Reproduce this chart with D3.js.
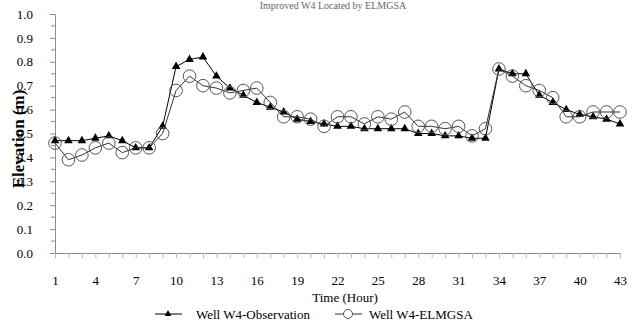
<!DOCTYPE html>
<html><head><meta charset="utf-8">
<script src="https://cdn.jsdelivr.net/npm/d3@7"></script>
<style>body{margin:0;background:#fff}svg{display:block}text{font-family:"Liberation Serif","Times New Roman",serif}</style>
</head><body>
<script>
const hours = d3.range(1, 44);
const xTickLabels = [1,4,7,10,13,16,19,22,25,28,31,34,37,40,43];
const yTicks = [0,0.1,0.2,0.3,0.4,0.5,0.6,0.7,0.8,0.9,1.0];
const observation = [0.47,0.47,0.47,0.48,0.49,0.47,0.44,0.44,0.53,0.78,
  0.81,0.82,0.74,0.69,0.66,0.63,0.61,0.59,0.56,0.55,
  0.54,0.53,0.53,0.52,0.52,0.52,0.52,0.50,0.50,0.49,
  0.49,0.48,0.48,0.77,0.75,0.75,0.66,0.63,0.60,0.58,
  0.57,0.56,0.54];
const elmgsa = [0.46,0.39,0.41,0.44,0.46,0.42,0.44,0.44,0.50,0.68,
  0.74,0.70,0.69,0.67,0.68,0.69,0.63,0.57,0.57,0.56,
  0.53,0.57,0.57,0.54,0.57,0.56,0.59,0.53,0.53,0.52,
  0.53,0.49,0.52,0.77,0.74,0.70,0.68,0.65,0.57,0.57,
  0.59,0.59,0.59];
const seriesNames = ["Well W4-Observation","Well W4-ELMGSA"];
const titleText = "Improved W4 Located by ELMGSA";

const W = 638, H = 326;
const svg = d3.select("body").append("svg").attr("width", W).attr("height", H);
const x = d3.scaleLinear().domain([1, 43]).range([55, 620]);
const y = d3.scaleLinear().domain([0, 1]).range([253, 14]);
const axisCol = "#8c8c8c";

// title (mostly cut off in the reference; kept small and fully visible here)
svg.append("text").attr("x", 333).attr("y", 9).attr("text-anchor", "middle")
  .attr("font-size", 10).attr("fill", "#666").text(titleText);

// Y axis
const yAxis = svg.append("g").attr("transform", "translate(55,0)")
  .call(d3.axisLeft(y).tickValues(yTicks).tickFormat(d3.format(".1f")).tickSize(5).tickPadding(17));
yAxis.select(".domain").attr("stroke", axisCol);
yAxis.selectAll(".tick line").attr("stroke", axisCol);
yAxis.selectAll("text").attr("font-size", 13).attr("fill", "#000");
svg.append("g").selectAll("line").data(d3.range(0.05, 1, 0.1)).join("line")
  .attr("x1", 51).attr("x2", 55).attr("y1", d => y(d)).attr("y2", d => y(d)).attr("stroke", axisCol);

// X axis
const xAxis = svg.append("g").attr("transform", "translate(0,253)")
  .call(d3.axisBottom(x).tickValues(hours).tickFormat(d => xTickLabels.includes(d) ? d : "").tickSize(5).tickPadding(18).tickSizeOuter(0));
xAxis.select(".domain").attr("stroke", axisCol);
xAxis.selectAll(".tick line").attr("stroke", "#b8b8b8");
xAxis.selectAll("text").attr("font-size", 13).attr("fill", "#000");

// axis titles
svg.append("text").attr("transform", "translate(24,139) rotate(-90)").attr("text-anchor", "middle")
  .attr("font-size", 17).attr("font-weight", "bold").text("Elevation (m)");
svg.append("text").attr("x", 345).attr("y", 302).attr("text-anchor", "middle")
  .attr("font-size", 13).text("Time (Hour)");

const line = d3.line().x((d, i) => x(hours[i])).y(d => y(d));

// Observation
svg.append("path").datum(observation).attr("d", line).attr("fill", "none").attr("stroke", "#000").attr("stroke-width", 1);
svg.append("g").selectAll("path").data(observation).join("path")
  .attr("transform", (d, i) => `translate(${x(hours[i])},${y(d)})`)
  .attr("d", d3.symbol(d3.symbolTriangle, 32)).attr("fill", "#000");

// ELMGSA
svg.append("path").datum(elmgsa).attr("d", line).attr("fill", "none").attr("stroke", "#333").attr("stroke-width", 1);
svg.append("g").selectAll("circle").data(elmgsa).join("circle")
  .attr("cx", (d, i) => x(hours[i])).attr("cy", d => y(d)).attr("r", 6.3)
  .attr("fill", "none").attr("stroke", "#555").attr("stroke-width", 1);

// Legend
const lg = svg.append("g").attr("transform", "translate(0,314)");
lg.append("line").attr("x1", 155).attr("x2", 182).attr("y1", 0).attr("y2", 0).attr("stroke", "#000");
lg.append("path").attr("transform", "translate(168,0)").attr("d", d3.symbol(d3.symbolTriangle, 20)).attr("fill", "#000");
lg.append("text").attr("x", 196).attr("y", 4.5).attr("font-size", 13).text(seriesNames[0]);
lg.append("line").attr("x1", 335).attr("x2", 362).attr("y1", 0).attr("y2", 0).attr("stroke", "#333");
lg.append("circle").attr("cx", 348).attr("cy", 0).attr("r", 4.5).attr("fill", "#fff").attr("stroke", "#555");
lg.append("text").attr("x", 369).attr("y", 4.5).attr("font-size", 13).text(seriesNames[1]);
</script>
</body></html>
